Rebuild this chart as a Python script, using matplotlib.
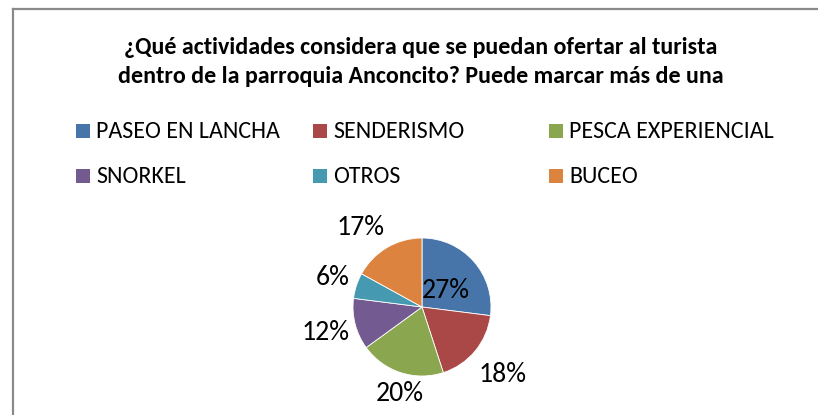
import matplotlib.pyplot as plt
import numpy as np
from matplotlib.patches import Rectangle
from matplotlib.lines import Line2D

plt.rcParams['font.family'] = ['Carlito', 'Liberation Sans Narrow', 'DejaVu Sans']

# data
categories = ["PASEO EN LANCHA", "SENDERISMO", "PESCA EXPERIENCIAL",
              "SNORKEL", "OTROS", "BUCEO"]
percent = [27, 18, 20, 12, 6, 17]
colors = ["#4775aa", "#a94846", "#8aa64f", "#735a91", "#4599b0", "#dc843f"]
title = ("¿Qué actividades considera que se puedan ofertar al turista\n"
         "dentro de la parroquia Anconcito? Puede marcar más de una")

W, H = 818, 415
fig = plt.figure(figsize=(W / 100, H / 100), dpi=100)

# chart border (only top and left visible in the crop)
fig.add_artist(Line2D([13 / W, 13 / W], [0, 1 - 9.5 / H], color="#8a8a8a", lw=1.6))
fig.add_artist(Line2D([13 / W, 1], [1 - 9.5 / H, 1 - 9.5 / H], color="#8a8a8a", lw=1.6))

fig.text(421 / W, 1 - 62 / H, title, ha="center", va="center", fontsize=17.3,
         fontweight="bold", linespacing=1.5)

# legend, laid out in three columns like the original
col_x = [76, 313, 549]
row_y = [131, 176]
for i, (lab, c) in enumerate(zip(categories, colors)):
    x = col_x[i % 3]
    y = row_y[i // 3]
    fig.add_artist(Rectangle((x / W, (H - y - 7) / H), 14 / W, 14 / H,
                             facecolor=c, edgecolor="none"))
    fig.text((x + 20) / W, 1 - y / H, lab, ha="left", va="center", fontsize=17.3)

# pie
cx, cy, r = 422, 307, 69
ax = fig.add_axes([(cx - r) / W, (H - cy - r) / H, 2 * r / W, 2 * r / H])
wedges, _ = ax.pie(percent, colors=colors, startangle=90, counterclock=False,
                   radius=1, wedgeprops=dict(edgecolor="white", linewidth=0.6))
ax.set_xlim(-1, 1)
ax.set_ylim(-1, 1)
ax.set_aspect("equal")

# label placement (distance in radii, angle in degrees), Excel "best fit" look
label_dist = [0.42, 1.52, 1.29, 1.44, 1.36, 1.46]
label_ang = [35, -40, -104.5, -165, 161.5, 127.5]
for p, d, a in zip(percent, label_dist, label_ang):
    t = np.deg2rad(a)
    ax.text(d * np.cos(t), d * np.sin(t), f"{p}%", ha="center", va="center",
            fontsize=20, clip_on=False)

fig.savefig("out.png", dpi=100)
